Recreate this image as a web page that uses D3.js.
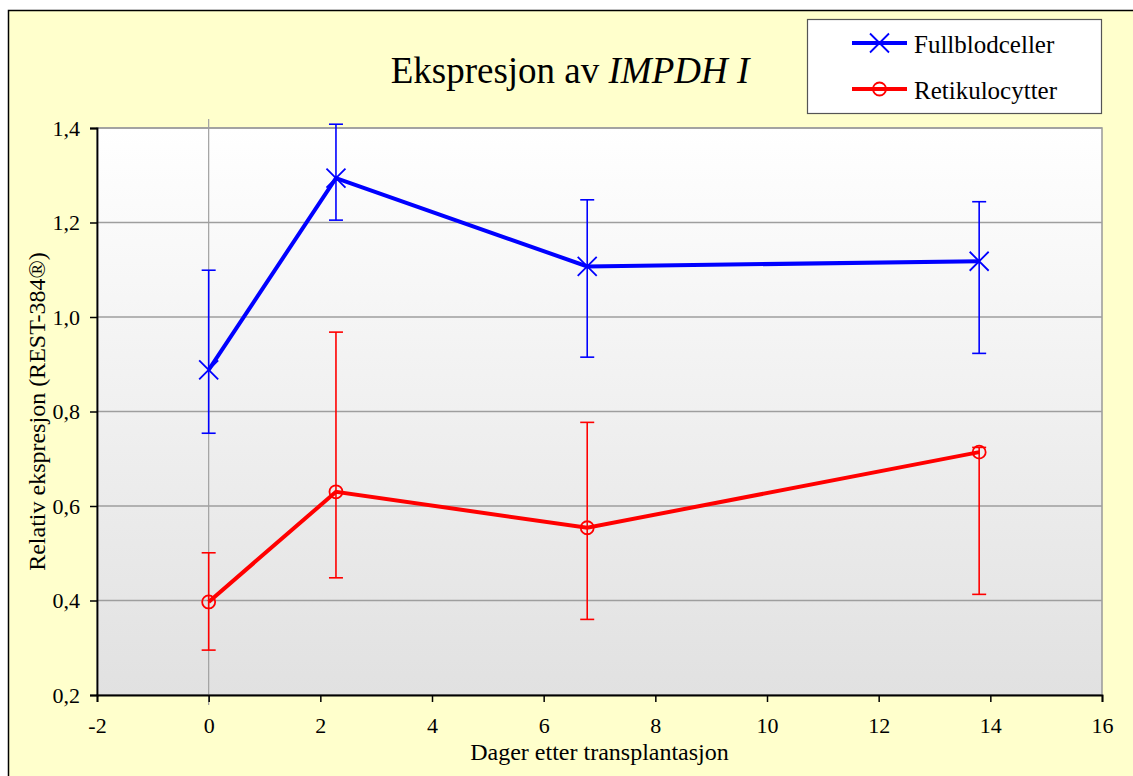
<!DOCTYPE html>
<html>
<head>
<meta charset="utf-8">
<script src="https://cdn.jsdelivr.net/npm/d3@7/dist/d3.min.js"></script>
<style>
  html, body { margin: 0; padding: 0; background: #ffffff; }
  svg { display: block; }
  text { font-family: "Liberation Serif", "Times New Roman", serif; fill: #000; }
</style>
</head>
<body>
<svg id="chart" width="1133" height="776"></svg>
<script>
// Days after transplantation
const days = [0, 2.28, 6.78, 13.8];

// Fullblodceller: mean and error bar ends
const wholeBlood = [0.888, 1.294, 1.107, 1.118];
const wholeBloodUpper = [1.099, 1.408, 1.248, 1.244];
const wholeBloodLower = [0.754, 1.205, 0.915, 0.923];

// Retikulocytter: mean and error bar ends
const reticulocytes = [0.397, 0.630, 0.554, 0.714];
const reticulocytesUpper = [0.501, 0.968, 0.777, 0.724];
const reticulocytesLower = [0.295, 0.448, 0.360, 0.413];

const xTicks = [-2, 0, 2, 4, 6, 8, 10, 12, 14, 16];
const yTicks = [0.2, 0.4, 0.6, 0.8, 1.0, 1.2, 1.4];

const seriesNames = ["Fullblodceller", "Retikulocytter"];
const seriesColors = ["#0000ff", "#ff0000"];

const svg = d3.select("#chart");
const W = 1133, H = 776;

// chart area background and frame
svg.append("rect").attr("x", 0).attr("y", 0).attr("width", W).attr("height", H).attr("fill", "#ffffff");
svg.append("rect").attr("x", 8.5).attr("y", 10.5).attr("width", W).attr("height", H)
  .attr("fill", "#ffffcc").attr("stroke", "#000").attr("stroke-width", 1.5);

const plot = { left: 97, top: 128, right: 1102, bottom: 695 };

const x = d3.scaleLinear().domain([-2, 16]).range([plot.left, plot.right]);
const y = d3.scaleLinear().domain([0.2, 1.4]).range([plot.bottom, plot.top]);

// plot area gradient
const defs = svg.append("defs");
const grad = defs.append("linearGradient").attr("id", "plotBg")
  .attr("x1", 0).attr("y1", 0).attr("x2", 0).attr("y2", 1);
grad.append("stop").attr("offset", "0%").attr("stop-color", "#ffffff");
grad.append("stop").attr("offset", "100%").attr("stop-color", "#e1e1e1");

svg.append("rect")
  .attr("x", plot.left).attr("y", plot.top)
  .attr("width", plot.right - plot.left).attr("height", plot.bottom - plot.top)
  .attr("fill", "url(#plotBg)").attr("stroke", "#999").attr("stroke-width", 1.5);

// horizontal gridlines
svg.append("g").selectAll("line").data(yTicks.slice(1)).join("line")
  .attr("x1", plot.left).attr("x2", plot.right)
  .attr("y1", d => y(d)).attr("y2", d => y(d))
  .attr("stroke", "#9e9e9e").attr("stroke-width", 1.5);

// vertical line at day 0
svg.append("line")
  .attr("x1", x(0)).attr("x2", x(0))
  .attr("y1", plot.top - 9).attr("y2", plot.bottom + 10)
  .attr("stroke", "#a0a0a0").attr("stroke-width", 1.2);

// axes
const xAxis = d3.axisBottom(x).tickValues(xTicks).tickSize(7).tickPadding(15)
  .tickFormat(d => String(d));
const gx = svg.append("g").attr("transform", `translate(0,${plot.bottom})`).call(xAxis);
gx.select(".domain").attr("stroke", "#000").attr("stroke-width", 1.8);
gx.selectAll(".tick line").attr("stroke", "#000").attr("stroke-width", 1.5);
gx.selectAll(".tick text").attr("font-size", 22).attr("font-family", "Liberation Serif");

const yAxis = d3.axisLeft(y).tickValues(yTicks).tickSize(7).tickPadding(10)
  .tickFormat(d => d3.format(".1f")(d).replace(".", ","));
const gy = svg.append("g").attr("transform", `translate(${plot.left},0)`).call(yAxis);
gy.select(".domain").attr("stroke", "#000").attr("stroke-width", 1.8);
gy.selectAll(".tick line").attr("stroke", "#000").attr("stroke-width", 1.5);
gy.selectAll(".tick text").attr("font-size", 22).attr("font-family", "Liberation Serif");

// series data
const series = [
  { name: seriesNames[0], color: seriesColors[0], mean: wholeBlood, hi: wholeBloodUpper, lo: wholeBloodLower, marker: "x" },
  { name: seriesNames[1], color: seriesColors[1], mean: reticulocytes, hi: reticulocytesUpper, lo: reticulocytesLower, marker: "o" }
];

const line = d3.line().x(d => x(d[0])).y(d => y(d[1]));
const capW = 7;

function drawMarker(g, type, cx, cy, color) {
  if (type === "x") {
    const s = 9.5;
    g.append("path")
      .attr("d", `M${cx - s},${cy - s}L${cx + s},${cy + s}M${cx - s},${cy + s}L${cx + s},${cy - s}`)
      .attr("stroke", color).attr("stroke-width", 1.8).attr("fill", "none");
  } else {
    g.append("circle").attr("cx", cx).attr("cy", cy).attr("r", 6.5)
      .attr("stroke", color).attr("stroke-width", 1.8).attr("fill", "none");
  }
}

series.forEach(s => {
  const g = svg.append("g");
  const pts = days.map((d, i) => [d, s.mean[i]]);
  // error bars
  days.forEach((d, i) => {
    const cx = x(d);
    g.append("line").attr("x1", cx).attr("x2", cx)
      .attr("y1", y(s.hi[i])).attr("y2", y(s.lo[i]))
      .attr("stroke", s.color).attr("stroke-width", 1.6);
    [s.hi[i], s.lo[i]].forEach(v => {
      g.append("line").attr("x1", cx - capW).attr("x2", cx + capW)
        .attr("y1", y(v)).attr("y2", y(v))
        .attr("stroke", s.color).attr("stroke-width", 1.6);
    });
  });
  // connecting line
  g.append("path").datum(pts).attr("d", line)
    .attr("fill", "none").attr("stroke", s.color).attr("stroke-width", 4);
  pts.forEach(p => drawMarker(g, s.marker, x(p[0]), y(p[1]), s.color));
});

// title
const title = svg.append("text").attr("x", 570).attr("y", 83)
  .attr("text-anchor", "middle").attr("font-size", 37);
title.append("tspan").text("Ekspresjon av ");
title.append("tspan").attr("font-style", "italic").text("IMPDH I");

// axis titles, centred on the plot area
svg.append("text").attr("x", (plot.left + plot.right) / 2).attr("y", 760)
  .attr("text-anchor", "middle").attr("font-size", 24)
  .text("Dager etter transplantasjon");
svg.append("text")
  .attr("transform", `translate(45,${(plot.top + plot.bottom) / 2}) rotate(-90)`)
  .attr("text-anchor", "middle").attr("font-size", 24)
  .text("Relativ ekspresjon (REST-384®)");

// legend
const lg = svg.append("g");
lg.append("rect").attr("x", 807.5).attr("y", 19.5).attr("width", 294).attr("height", 94)
  .attr("fill", "#ffffff").attr("stroke", "#555").attr("stroke-width", 1.2);
series.forEach((s, i) => {
  const ly = 43 + i * 46;
  lg.append("line").attr("x1", 852).attr("x2", 907).attr("y1", ly).attr("y2", ly)
    .attr("stroke", s.color).attr("stroke-width", 4);
  drawMarker(lg, s.marker, 879.5, ly, s.color);
  lg.append("text").attr("x", 914).attr("y", ly + 10).attr("font-size", 25).text(s.name);
});
</script>
</body>
</html>
